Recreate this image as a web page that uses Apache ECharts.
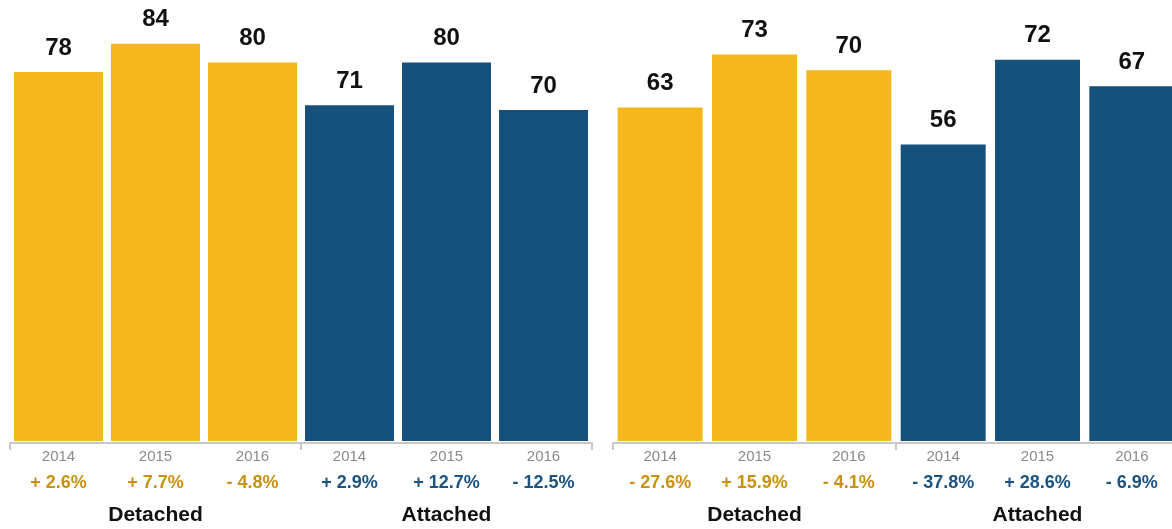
<!DOCTYPE html>
<html>
<head>
<meta charset="utf-8">
<script src="https://cdn.jsdelivr.net/npm/echarts@6/dist/echarts.min.js"></script>
<style>
html,body{margin:0;padding:0;background:#fff;}
#chart{width:1172px;height:529px;}
</style>
</head>
<body>
<div id="chart"></div>
<script>
const years = ['2014', '2015', '2016', '2014', '2015', '2016'];
const groups = ['Detached', 'Attached'];
const leftValues = [78, 84, 80, 71, 80, 70];
const leftChanges = ['+ 2.6%', '+ 7.7%', '- 4.8%', '+ 2.9%', '+ 12.7%', '- 12.5%'];
const rightValues = [63, 73, 70, 56, 72, 67];
const rightChanges = ['- 27.6%', '+ 15.9%', '- 4.1%', '- 37.8%', '+ 28.6%', '- 6.9%'];

const YELLOW = '#F5B71C';
const BLUE = '#15517B';
const YELLOW_TXT = '#C8920F';
const BLUE_TXT = '#1B5381';
const FONT = '"Liberation Sans", Arial, Helvetica, sans-serif';
const AXIS_GREY = '#c8c8c8';

const cats = years.map((y, i) => groups[Math.floor(i / 3)] + ' ' + y);

function yearAxis(gridIndex, changes) {
  return {
    gridIndex: gridIndex,
    type: 'category',
    position: 'bottom',
    data: cats,
    axisLine: { show: false },
    axisTick: { show: false },
    axisLabel: {
      interval: 0,
      margin: 3,
      fontFamily: FONT,
      formatter: function (v, i) {
        return '{y|' + years[i] + '}\n{' + (i < 3 ? 'd' : 'a') + '|' + changes[i] + '}';
      },
      rich: {
        y: { fontSize: 15, color: '#8a8a8a', lineHeight: 26, fontFamily: FONT },
        d: { fontSize: 18, fontWeight: 'bold', color: YELLOW_TXT, lineHeight: 26, fontFamily: FONT },
        a: { fontSize: 18, fontWeight: 'bold', color: BLUE_TXT, lineHeight: 26, fontFamily: FONT }
      }
    }
  };
}

function groupAxis(gridIndex) {
  return {
    gridIndex: gridIndex,
    type: 'category',
    position: 'bottom',
    offset: 2,
    data: groups,
    axisLine: { show: true, lineStyle: { color: AXIS_GREY, width: 2 } },
    axisTick: { show: true, length: 7, lineStyle: { color: AXIS_GREY, width: 2 } },
    axisLabel: {
      interval: 0,
      margin: 62,
      fontSize: 21,
      fontWeight: 'bold',
      color: '#111',
      fontFamily: FONT
    }
  };
}

function barSeries(axisIdx, values, width) {
  return {
    type: 'bar',
    xAxisIndex: axisIdx,
    yAxisIndex: axisIdx === 0 ? 0 : 1,
    barWidth: width,
    data: values.map((v, i) => ({ value: v, itemStyle: { color: i < 3 ? YELLOW : BLUE } })),
    label: {
      show: true,
      position: 'top',
      distance: 12,
      fontSize: 24,
      fontWeight: 'bold',
      color: '#111',
      fontFamily: FONT
    },
    silent: true,
    animation: false
  };
}

const chart = echarts.init(document.getElementById('chart'), null, { renderer: 'canvas' });
chart.setOption({
  animation: false,
  backgroundColor: '#fff',
  grid: [
    { left: 10, width: 582, bottom: 88, top: 441 - 90 * 4.73, containLabel: false, outerBoundsMode: 'none' },
    { left: 613, width: 566, bottom: 88, top: 441 - 80 * 5.295, containLabel: false, outerBoundsMode: 'none' }
  ],
  xAxis: [
    yearAxis(0, leftChanges),
    groupAxis(0),
    yearAxis(1, rightChanges),
    groupAxis(1)
  ],
  yAxis: [
    { gridIndex: 0, type: 'value', min: 0, max: 90, show: false },
    { gridIndex: 1, type: 'value', min: 0, max: 80, show: false }
  ],
  series: [
    barSeries(0, leftValues, 89),
    barSeries(2, rightValues, 85)
  ]
});
</script>
</body>
</html>
